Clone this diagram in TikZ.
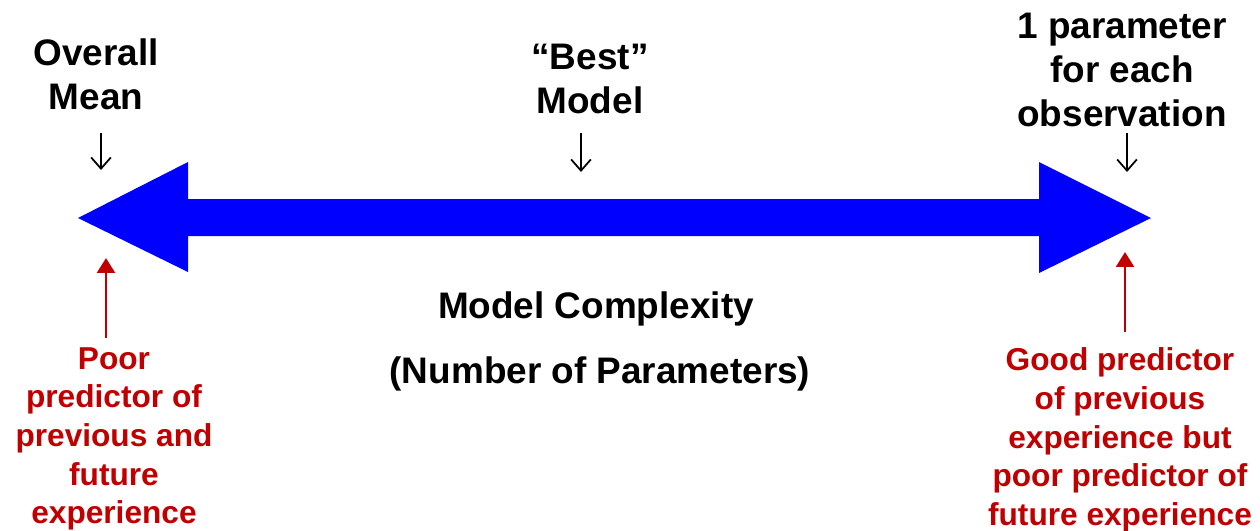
\documentclass[tikz,border=0pt]{standalone}
\usepackage{fontspec}
\setmainfont{Liberation Sans}
\usetikzlibrary{arrows.meta}
\definecolor{darkred}{RGB}{192,0,0}
\tikzset{
  toplabel/.style={align=center, font=\fontsize{10.5}{12.5}\selectfont\bfseries},
  redlabel/.style={align=center, text=darkred, font=\fontsize{9}{11}\selectfont\bfseries},
  pointer/.style={-{Straight Barb[length=3.2pt,width=5.6pt]}, line width=0.5pt},
  redpointer/.style={-{Triangle[length=4.2pt,width=5pt]}, darkred, line width=0.8pt}
}
\begin{document}
\begin{tikzpicture}[x=0.01cm, y=-0.01cm]
\useasboundingbox (0,0) rectangle (1260,530);
% double headed complexity arrow
\fill[blue] (78,218)--(188,162)--(188,199)--(1039,199)--(1039,162)--(1151,218)
  --(1039,273)--(1039,236)--(188,236)--(188,272)--cycle;
\coordinate (ltip) at (106,258);
\coordinate (rtip) at (1125,252);

% labels above
\node[toplabel] (mean) at (96,74) {Overall\\Mean};
\node[toplabel] (best) at (590,79) {``Best''\\Model};
\node[toplabel] (each) at (1122,70) {1 parameter\\for each\\observation};
\foreach \x/\y in {101/170,581/172,1127/172}
{
    \draw[pointer] (\x,133)--(\x,\y);
}

% axis title
\node[toplabel] (cplx) at (596,309) {Model Complexity};
\node[toplabel] (npar) at (600,374) {(Number of Parameters)};

% labels below
\node[redlabel] (poor) at (114,439) {Poor\\predictor of\\previous and\\future\\experience};
\node[redlabel] (good) at (1120,440) {Good predictor\\of previous\\experience but\\poor predictor of\\future experience};
\draw[redpointer] (106,338)--(ltip);
\draw[redpointer] (1125,332)--(rtip);

\end{tikzpicture}
\end{document}
